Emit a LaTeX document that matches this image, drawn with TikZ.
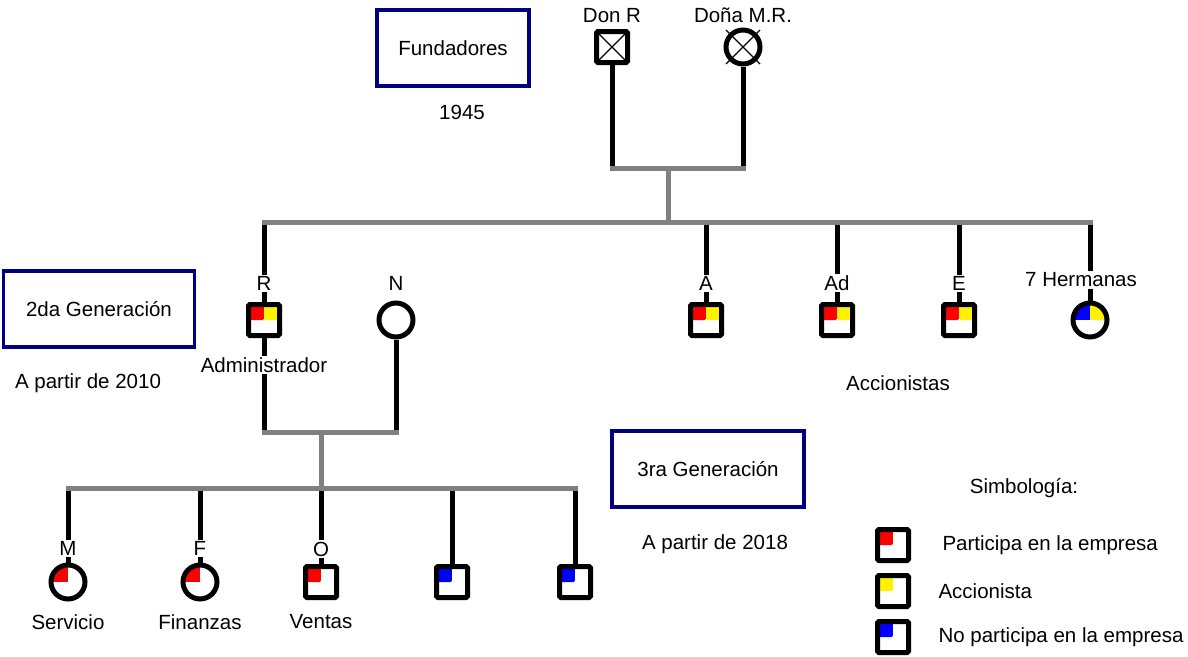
\documentclass[tikz,border=0pt]{standalone}
\usepackage{fontspec}
\setmainfont{Liberation Sans}
\usepackage{tikz}
\usetikzlibrary{calc,positioning,backgrounds}
\definecolor{navyb}{RGB}{0,0,128}
\definecolor{linegray}{RGB}{128,128,128}
\tikzstyle{gen}    = [rectangle, draw=navyb, line width=3.5pt, minimum width=152pt, minimum height=76pt]
\tikzstyle{male}   = [rectangle, draw=black, fill=white, line width=5pt, minimum size=31pt, rounded corners=1.5pt]
\tikzstyle{female} = [circle, draw=black, fill=white, line width=5pt, minimum size=34pt]
\tikzstyle{tag}    = [fill=white, inner sep=1.5pt]
\tikzstyle{kin}    = [line width=5pt, black]
\tikzstyle{bar}    = [line width=5pt, linegray, line cap=rect]

\begin{document}
\begin{tikzpicture}[x=1pt, y=-1pt, font=\fontsize{20.5}{24}\selectfont,
		quad/.style 2 args={path picture={
				\fill[#1] (path picture bounding box.north west) rectangle (path picture bounding box.center);
				\fill[#2] (path picture bounding box.north) rectangle (path picture bounding box.east);}},
		crossed/.style={path picture={
				\draw[line width=1.2pt] (path picture bounding box.north west) -- (path picture bounding box.south east)
				(path picture bounding box.north east) -- (path picture bounding box.south west);}}]
	\useasboundingbox (0,0) rectangle (1188,656);

	\node (fund) [gen] at (453,48) {Fundadores};
	\node (y1945) at (462,112) {1945};
	\node (gen2) [gen, minimum width=191pt] at (99,309) {2da Generación};
	\node (y2010) at (88,383) {A partir de 2010};
	\node (gen3) [gen, minimum width=192pt] at (708,469) {3ra Generación};
	\node (y2018) at (715,544) {A partir de 2018};

	\node (donr) [male, crossed] at (612,47) {};
	\node (ldonr) [tag, above=5pt of donr] {Don R};
	\node (dona) [female] at (743,47) {};
	\draw[line width=1.2pt] ([shift={(-17,-17)}]dona.center) -- ([shift={(17,17)}]dona.center)
		([shift={(17,-17)}]dona.center) -- ([shift={(-17,17)}]dona.center);
	\node (ldona) [tag, above=3pt of dona] {Doña M.R.};

	\node (r) [male, quad={red}{yellow}] at (264,320) {};
	\node (lr) [tag, above=10pt of r] {R};
	\node (admin) [tag, below=18pt of r] {Administrador};
	\node (n) [female] at (396,320) {};
	\node (ln) [tag, above=8pt of n] {N};
	\node (a) [male, quad={red}{yellow}] at (706,320) {};
	\node (la) [tag, above=10pt of a] {A};
	\node (ad) [male, quad={red}{yellow}] at (837,320) {};
	\node (lad) [tag, above=10pt of ad] {Ad};
	\node (e) [male, quad={red}{yellow}] at (959,320) {};
	\node (le) [tag, above=10pt of e] {E};
	\node (h) [female, quad={blue}{yellow}] at (1090,320) {};
	\node (lh) [tag] at (1081,280) {7 Hermanas};
	\node (accion) at (898,383) {Accionistas};

	\node (m) [female, quad={red}{white}] at (68,582) {};
	\node (lm) [tag, above=5pt of m] {M};
	\node (serv) [below=10pt of m] {Servicio};
	\node (f) [female, quad={red}{white}] at (200,582) {};
	\node (lf) [tag, above=5pt of f] {F};
	\node (fin) [below=10pt of f] {Finanzas};
	\node (o) [male, quad={red}{white}] at (321,582) {};
	\node (lo) [tag, above=6pt of o] {O};
	\node (vent) [below=11pt of o] {Ventas};
	\node (u4) [male, quad={blue}{white}] at (452,582) {};
	\node (u5) [male, quad={blue}{white}] at (575,582) {};

	\node (simb) at (1024,488) {Simbología:};
	\node (lg1) [male, quad={red}{white}] at (893,545) {};
	\node (tg1) [right=28pt of lg1] {Participa en la empresa};
	\node (lg2) [male, quad={yellow}{white}] at (893,591) {};
	\node (tg2) [right=24pt of lg2] {Accionista};
	\node (lg3) [male, quad={blue}{white}] at (893,637) {};
	\node (tg3) [right=24pt of lg3] {No participa en la empresa};

	\coordinate (p1) at (612,168);
	\coordinate (p2) at (743,168);
	\coordinate (m0) at (668,168);
	\coordinate (m1) at (668,222);
	\coordinate (s2l) at (264,222);
	\coordinate (s2r) at (1090,222);
	\coordinate (c1) at (264,432);
	\coordinate (c2) at (396,432);
	\coordinate (m2) at (321,432);
	\coordinate (m3) at (321,488);
	\coordinate (s3l) at (68,488);
	\coordinate (s3r) at (575,488);

	\begin{scope}[on background layer]
		\draw[kin] (donr) -- (p1);
		\draw[kin] (dona) -- (p2);
		\foreach \k in {r,a,ad,e,h}
		\draw[kin] (\k) -- (\k |- s2l);
		\draw[kin] (r) -- (c1);
		\draw[kin] (n) -- (c2);
		\foreach \k in {m,f,o,u4,u5}
		\draw[kin] (\k) -- (\k |- s3l);
		\draw[bar] (p1) -- (p2);
		\draw[bar] (m0) -- (m1);
		\draw[bar] (s2l) -- (s2r);
		\draw[bar] (c1) -- (c2);
		\draw[bar] (m2) -- (m3);
		\draw[bar] (s3l) -- (s3r);
	\end{scope}
\end{tikzpicture}
\end{document}
